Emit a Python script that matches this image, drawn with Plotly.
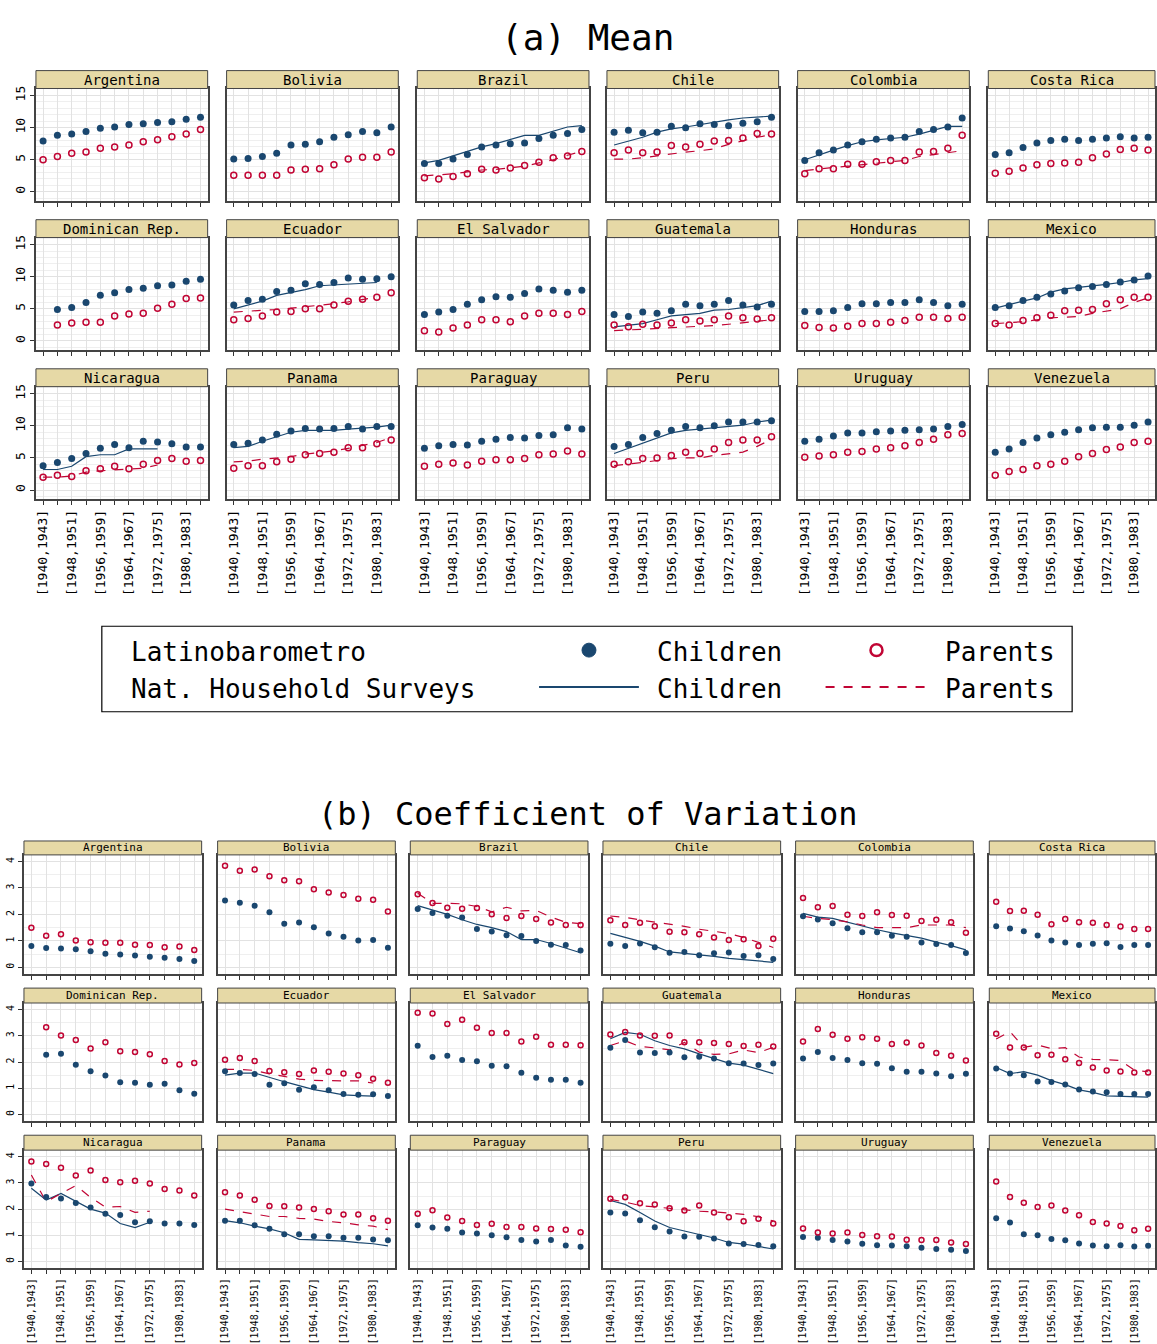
import plotly.graph_objects as go

countries = ["Argentina","Bolivia","Brazil","Chile","Colombia","Costa Rica",
             "Dominican Rep.","Ecuador","El Salvador","Guatemala","Honduras","Mexico",
             "Nicaragua","Panama","Paraguay","Peru","Uruguay","Venezuela"]
cohorts = ["[1940,1943]","[1944,1947]","[1948,1951]","[1952,1955]","[1956,1959]","[1960,1963]",
           "[1964,1967]","[1968,1971]","[1972,1975]","[1976,1979]","[1980,1983]","[1984,1987]"]
N = None
# ---- (a) Mean years of schooling ----
mean_lb_child = {
 "Argentina":[7.9,8.8,9.0,9.4,9.9,10.1,10.5,10.6,10.8,10.9,11.3,11.6],
 "Bolivia":[5.1,5.2,5.5,6.0,7.3,7.4,7.8,8.5,8.9,9.4,9.2,10.1],
 "Brazil":[4.4,4.4,5.1,5.8,7.0,7.3,7.5,7.6,8.3,8.8,9.1,9.7],
 "Chile":[9.3,9.6,9.2,9.3,10.2,10.0,10.6,10.5,10.3,10.7,10.9,11.6],
 "Colombia":[4.9,6.1,6.5,7.3,7.8,8.2,8.4,8.5,9.4,9.7,10.1,11.5],
 "Costa Rica":[5.8,6.1,6.9,7.6,8.0,8.2,8.0,8.2,8.4,8.6,8.4,8.5],
 "Dominican Rep.":[N,4.9,5.2,6.0,7.1,7.5,8.0,8.2,8.6,8.7,9.3,9.6],
 "Ecuador":[5.6,6.3,6.5,7.7,7.9,8.9,8.8,9.1,9.8,9.6,9.7,10.0],
 "El Salvador":[4.1,4.5,4.9,5.7,6.4,6.9,6.8,7.4,8.1,7.9,7.6,7.9],
 "Guatemala":[4.1,3.8,4.5,4.3,4.7,5.7,5.5,5.7,6.3,5.6,5.3,5.7],
 "Honduras":[4.6,4.6,4.7,5.2,5.8,5.8,6.0,6.0,6.4,6.0,5.5,5.7],
 "Mexico":[5.2,5.5,6.3,6.8,7.3,7.8,8.3,8.5,8.8,9.2,9.5,10.1],
 "Nicaragua":[3.8,4.3,4.9,5.7,6.5,7.1,6.6,7.6,7.5,7.2,6.7,6.7],
 "Panama":[7.1,7.3,7.8,8.7,9.2,9.6,9.5,9.6,9.9,9.5,9.9,9.9],
 "Paraguay":[6.5,6.9,7.1,7.0,7.6,7.9,8.2,8.1,8.5,8.6,9.7,9.5],
 "Peru":[6.8,7.1,8.2,8.8,9.3,9.9,9.7,10.0,10.6,10.6,10.6,10.8],
 "Uruguay":[7.6,7.9,8.4,8.9,8.9,9.1,9.2,9.3,9.4,9.5,9.9,10.2],
 "Venezuela":[5.9,6.4,7.4,8.1,8.6,9.0,9.4,9.7,9.8,9.8,10.1,10.6]}
mean_lb_parent = {
 "Argentina":[5.0,5.5,6.0,6.2,6.8,7.0,7.3,7.8,8.1,8.6,9.0,9.7],
 "Bolivia":[2.6,2.6,2.6,2.6,3.4,3.5,3.6,4.2,5.1,5.4,5.4,6.2],
 "Brazil":[2.2,2.0,2.4,2.8,3.5,3.4,3.7,4.1,4.6,5.3,5.6,6.3],
 "Chile":[6.1,6.5,6.1,6.2,7.2,7.0,7.4,7.9,8.0,8.4,9.1,9.0],
 "Colombia":[2.8,3.6,3.6,4.3,4.3,4.7,4.9,4.9,6.2,6.3,6.8,8.8],
 "Costa Rica":[2.9,3.2,3.7,4.2,4.4,4.5,4.6,5.3,5.9,6.6,6.8,6.5],
 "Dominican Rep.":[N,2.5,2.8,2.9,2.9,3.9,4.2,4.3,5.1,5.7,6.6,6.7],
 "Ecuador":[3.3,3.5,3.9,4.5,4.6,5.0,5.0,5.6,6.2,6.5,6.8,7.5],
 "El Salvador":[1.6,1.4,2.0,2.5,3.3,3.3,3.0,3.9,4.3,4.3,4.1,4.6],
 "Guatemala":[2.5,2.2,2.6,2.5,2.8,3.3,3.1,3.3,3.9,3.6,3.4,3.6],
 "Honduras":[2.4,2.1,2.0,2.3,2.7,2.7,2.9,3.2,3.7,3.7,3.5,3.7],
 "Mexico":[2.7,2.5,3.2,3.6,4.0,4.7,4.8,4.9,5.8,6.4,6.8,6.8],
 "Nicaragua":[2.0,2.3,2.1,3.0,3.3,3.7,3.3,4.0,4.6,4.9,4.5,4.6],
 "Panama":[3.4,3.8,3.8,4.4,4.8,5.5,5.7,5.9,6.6,6.6,7.2,7.8],
 "Paraguay":[3.7,4.0,4.2,3.9,4.5,4.7,4.7,4.9,5.5,5.6,6.1,5.6],
 "Peru":[4.0,4.4,4.9,5.0,5.4,5.9,5.7,6.4,7.4,7.8,7.8,8.3],
 "Uruguay":[5.1,5.3,5.5,5.9,6.0,6.4,6.6,6.9,7.4,7.9,8.6,8.8],
 "Venezuela":[2.3,2.9,3.2,3.8,4.0,4.5,5.2,5.7,6.3,6.7,7.4,7.6]}
mean_hs_child = {
 "Brazil":[4.5,4.9,5.6,6.3,7.0,7.5,8.1,8.8,8.8,9.4,10.1,10.3],
 "Chile":[7.3,7.9,8.5,9.3,9.8,10.1,10.5,10.9,11.2,11.5,11.7,11.8],
 "Colombia":[5.0,5.8,6.5,7.2,7.8,8.1,8.3,8.5,9.0,9.6,10.2,10.2],
 "Ecuador":[5.0,5.6,6.2,7.1,7.5,8.0,8.6,8.7,8.9,9.0,9.1,N],
 "Guatemala":[2.2,2.4,2.7,3.3,3.9,4.1,4.3,4.8,4.9,5.2,5.5,6.2],
 "Mexico":[5.1,5.7,6.2,6.7,7.6,8.1,8.3,8.5,8.8,9.1,9.5,9.7],
 "Nicaragua":[3.2,3.2,3.7,5.2,5.5,5.5,6.4,6.4,6.4,N,N,N],
 "Panama":[6.6,6.8,7.6,8.3,9.0,9.3,9.3,9.3,9.5,9.6,9.8,10.1],
 "Peru":[5.7,6.5,7.4,8.2,8.9,9.3,9.5,9.8,10.0,10.1,10.6,10.9]}
mean_hs_parent = {
 "Brazil":[2.5,2.6,2.8,3.1,3.4,3.5,3.7,4.0,4.5,5.0,5.7,6.3],
 "Chile":[5.1,5.1,5.3,5.6,6.0,6.2,6.4,6.7,7.4,8.0,8.5,8.9],
 "Colombia":[3.3,3.6,3.8,4.0,4.2,4.5,4.6,4.9,5.5,5.8,6.1,6.4],
 "Ecuador":[4.5,4.6,4.7,4.9,5.1,5.3,5.5,5.8,6.1,6.4,6.8,N],
 "Guatemala":[1.6,1.7,1.8,1.9,2.0,2.1,2.2,2.4,2.6,2.8,3.0,3.3],
 "Mexico":[2.7,2.8,3.0,3.3,3.6,3.7,3.8,4.3,4.6,5.0,6.0,6.7],
 "Nicaragua":[2.0,2.0,2.2,2.8,3.0,3.1,3.2,3.4,3.9,N,N,N],
 "Panama":[4.4,4.5,4.8,5.0,5.2,5.6,5.8,6.1,6.5,6.9,7.4,8.2],
 "Peru":[3.8,4.0,4.3,4.6,4.9,5.0,5.0,5.4,5.6,5.9,6.8,7.9]}
# ---- (b) Coefficient of variation ----
cv_lb_child = {
 "Argentina":[0.81,0.73,0.71,0.68,0.61,0.51,0.48,0.45,0.40,0.36,0.31,0.24],
 "Bolivia":[2.53,2.44,2.33,2.08,1.65,1.69,1.51,1.28,1.16,1.01,1.03,0.74],
 "Brazil":[2.2,2.05,1.95,1.88,1.45,1.35,1.21,1.18,0.99,0.85,0.84,0.64],
 "Chile":[0.89,0.81,0.9,0.76,0.55,0.58,0.46,0.53,0.56,0.43,0.46,0.31],
 "Colombia":[1.93,1.81,1.67,1.48,1.33,1.33,1.19,1.16,0.94,0.88,0.84,0.54],
 "Costa Rica":[1.55,1.47,1.36,1.2,1.01,0.94,0.84,0.89,0.91,0.77,0.84,0.84],
 "Dominican Rep.":[N,2.28,2.32,1.9,1.65,1.49,1.23,1.21,1.13,1.17,0.92,0.79],
 "Ecuador":[1.65,1.58,1.54,1.13,1.19,0.94,1.04,0.92,0.78,0.75,0.77,0.70],
 "El Salvador":[2.62,2.19,2.24,2.08,2.03,1.86,1.84,1.59,1.40,1.32,1.32,1.21],
 "Guatemala":[2.54,2.84,2.36,2.34,2.36,2.18,2.2,2.13,1.95,1.94,1.89,1.94],
 "Honduras":[2.13,2.38,2.15,2.08,1.95,1.93,1.76,1.63,1.63,1.56,1.46,1.55],
 "Mexico":[1.75,1.56,1.5,1.26,1.24,1.14,0.95,0.88,0.85,0.78,0.78,0.78],
 "Nicaragua":[2.98,2.46,2.41,2.23,2.06,1.82,1.78,1.5,1.54,1.45,1.45,1.4],
 "Panama":[1.56,1.56,1.39,1.25,1.04,1.04,0.97,0.97,0.91,0.91,0.84,0.81],
 "Paraguay":[1.39,1.3,1.25,1.11,1.07,1.0,0.93,0.82,0.77,0.82,0.61,0.57],
 "Peru":[1.87,1.83,1.58,1.31,1.15,0.96,0.95,0.88,0.69,0.67,0.63,0.59],
 "Uruguay":[0.94,0.91,0.82,0.77,0.68,0.62,0.61,0.59,0.53,0.48,0.45,0.4],
 "Venezuela":[1.65,1.49,1.04,1.0,0.86,0.81,0.69,0.61,0.59,0.62,0.58,0.6]}
cv_lb_parent = {
 "Argentina":[1.50,1.19,1.25,1.01,0.95,0.93,0.93,0.85,0.84,0.76,0.79,0.65],
 "Bolivia":[3.84,3.65,3.70,3.44,3.29,3.25,2.95,2.83,2.73,2.59,2.55,2.11],
 "Brazil":[2.76,2.43,2.25,2.21,2.24,2.01,1.86,1.94,1.83,1.69,1.6,1.6],
 "Chile":[1.78,1.6,1.68,1.55,1.34,1.33,1.25,1.13,1.03,1.06,0.81,1.08],
 "Colombia":[2.62,2.27,2.32,1.99,1.94,2.08,1.98,1.95,1.75,1.8,1.7,1.31],
 "Costa Rica":[2.48,2.13,2.14,1.99,1.63,1.83,1.7,1.68,1.6,1.54,1.45,1.45],
 "Dominican Rep.":[N,3.33,3.01,2.84,2.52,2.75,2.41,2.38,2.3,2.04,1.91,1.96],
 "Ecuador":[2.09,2.15,2.04,1.66,1.61,1.54,1.68,1.63,1.56,1.5,1.36,1.21],
 "El Salvador":[3.88,3.85,3.45,3.61,3.31,3.11,3.11,2.78,2.96,2.66,2.66,2.64],
 "Guatemala":[3.05,3.14,3.01,3.0,3.01,2.75,2.75,2.73,2.69,2.61,2.66,2.59],
 "Honduras":[2.78,3.26,3.04,2.89,2.94,2.89,2.69,2.74,2.63,2.34,2.24,2.06],
 "Mexico":[3.08,2.55,2.55,2.26,2.28,2.11,1.96,1.79,1.68,1.64,1.6,1.6],
 "Nicaragua":[3.82,3.72,3.58,3.28,3.47,3.11,3.03,3.08,2.98,2.77,2.71,2.52],
 "Panama":[2.64,2.52,2.36,2.12,2.11,2.06,2.01,1.92,1.8,1.8,1.65,1.56],
 "Paraguay":[1.82,1.96,1.68,1.55,1.4,1.44,1.32,1.32,1.26,1.24,1.21,1.12],
 "Peru":[2.4,2.45,2.22,2.18,2.03,1.95,2.14,1.87,1.69,1.54,1.63,1.45],
 "Uruguay":[1.26,1.11,1.07,1.11,1.01,0.97,0.96,0.83,0.82,0.82,0.73,0.67],
 "Venezuela":[3.05,2.46,2.24,2.08,2.14,1.95,1.77,1.51,1.45,1.36,1.2,1.25]}
cv_hs_child = {
 "Brazil":[2.33,2.17,2.0,1.8,1.62,1.5,1.35,1.05,1.05,0.9,0.72,0.55],
 "Chile":[1.28,1.13,0.98,0.8,0.58,0.53,0.48,0.41,0.34,0.29,0.24,0.19],
 "Colombia":[2.04,1.9,1.85,1.7,1.55,1.42,1.3,1.2,1.1,0.95,0.82,0.66],
 "Ecuador":[1.5,1.58,1.58,1.4,1.25,1.1,0.95,0.85,0.75,0.72,0.7,N],
 "Guatemala":[2.89,3.13,3.06,2.81,2.63,2.5,2.31,2.13,1.96,1.88,1.71,1.56],
 "Mexico":[1.79,1.56,1.63,1.5,1.29,1.14,0.94,0.84,0.71,0.69,0.66,0.66],
 "Nicaragua":[2.8,2.35,2.6,2.3,2.0,1.85,1.45,1.3,1.5,N,N,N],
 "Panama":[1.56,1.48,1.35,1.25,1.1,0.85,0.83,0.8,0.78,0.72,0.68,0.6],
 "Peru":[2.33,2.18,1.87,1.55,1.3,1.17,1.05,0.9,0.73,0.67,0.58,0.48]}
cv_hs_parent = {
 "Brazil":[2.8,2.42,2.42,2.4,2.3,2.1,2.27,2.13,2.15,1.9,1.7,1.65],
 "Chile":[1.94,1.89,1.79,1.71,1.63,1.55,1.44,1.36,1.28,1.13,0.94,0.75],
 "Colombia":[1.93,1.85,1.8,1.72,1.6,1.5,1.5,1.5,1.6,1.6,1.6,1.5],
 "Ecuador":[1.72,1.72,1.68,1.55,1.45,1.35,1.3,1.28,1.28,1.28,1.2,N],
 "Guatemala":[2.63,2.81,2.59,2.54,2.46,2.75,2.38,2.29,2.31,2.46,2.36,2.56],
 "Mexico":[2.88,3.16,2.56,2.65,2.51,2.55,2.19,2.1,2.09,2.06,1.69,1.63],
 "Nicaragua":[3.3,2.28,2.6,2.9,2.45,2.08,2.1,1.88,1.92,N,N,N],
 "Panama":[2.0,1.9,1.82,1.72,1.72,1.65,1.62,1.53,1.48,1.4,1.35,1.22],
 "Peru":[2.37,2.27,2.14,2.09,2.02,1.97,1.92,1.9,1.84,1.8,1.71,1.55]}

W, H = 1157, 1344
NAVY, RED, STRIP = "#1a476f", "#c10534", "#e6d9a6"
FONT = "DejaVu Sans Mono"
fig = go.Figure()
layout = {}
shapes, annos = [], []
xs = list(range(12))
def fx(p): return p / W
def fy(p): return 1 - p / H

panels = [
 dict(data=(mean_lb_child, mean_lb_parent, mean_hs_child, mean_hs_parent),
      xl=[35,226,417,607,798,989], w=172, rows=[(68,86,199),(218,236,349),(368,386,499)],
      yr=[-1.4,16.1], dt=5, minor=1, sf=14, tf=13, ms=7, ms2=6),
 dict(data=(cv_lb_child, cv_lb_parent, cv_hs_child, cv_hs_parent),
      xl=[23,217,410,603,796,990], w=178, rows=[(843,857,977),(991,1006,1125),(1139,1154,1273)],
      yr=[-0.26,4.25], dt=1, minor=0.5, sf=11, tf=10, ms=6, ms2=5),
]
k = 0
for P in panels:
    lbc, lbp, hsc, hsp = P["data"]
    for i, c in enumerate(countries):
        r, col = divmod(i, 6)
        k += 1
        xa = "x" if k == 1 else f"x{k}"
        ya = "y" if k == 1 else f"y{k}"
        x0 = P["xl"][col]; x1 = min(x0 + P["w"], W - 1)
        st, t0, t1 = P["rows"][r]
        layout["xaxis" if k == 1 else f"xaxis{k}"] = dict(
            domain=[fx(x0), fx(x1)], anchor=ya, range=[-0.5, 11.5],
            tickvals=xs, ticktext=[cohorts[j] if (j % 2 == 0 and r == 2) else "" for j in xs],
            tickangle=-90, ticks="outside", ticklen=4, tickcolor="#333",
            tickfont=dict(family=FONT, size=P["tf"], color="#000"),
            showgrid=True, gridcolor="#e2e2e2", gridwidth=1,
            showline=True, linecolor="#444", linewidth=1.5, mirror=True, zeroline=False)
        layout["yaxis" if k == 1 else f"yaxis{k}"] = dict(
            domain=[fy(t1), fy(t0)], anchor=xa, range=P["yr"], dtick=P["dt"], tick0=0,
            showticklabels=(col == 0), ticks="outside" if col == 0 else "", ticklen=4,
            tickcolor="#333", tickangle=-90,
            tickfont=dict(family=FONT, size=P["tf"], color="#000"),
            showgrid=True, gridcolor="#e2e2e2", gridwidth=1,
            minor=dict(dtick=P["minor"], showgrid=True, gridcolor="#efefef"),
            showline=True, linecolor="#444", linewidth=1.5, mirror=True, zeroline=False)
        shapes.append(dict(type="rect", xref="paper", yref="paper",
                           x0=fx(x0), x1=fx(x1), y0=fy(t0), y1=fy(st),
                           fillcolor=STRIP, line=dict(color="#444", width=1)))
        annos.append(dict(text=c, xref="paper", yref="paper", x=fx((x0 + x1) / 2),
                          y=fy((st + t0) / 2), showarrow=False, xanchor="center", yanchor="middle",
                          font=dict(family=FONT, size=P["sf"], color="#000")))
        if c in hsc:
            fig.add_trace(go.Scatter(x=xs, y=hsc[c], mode="lines", xaxis=xa, yaxis=ya,
                                     line=dict(color=NAVY, width=1.2), showlegend=False))
            fig.add_trace(go.Scatter(x=xs, y=hsp[c], mode="lines", xaxis=xa, yaxis=ya,
                                     line=dict(color=RED, width=1.2, dash="dash"), showlegend=False))
        fig.add_trace(go.Scatter(x=xs, y=lbc[c], mode="markers", xaxis=xa, yaxis=ya,
                                 marker=dict(color=NAVY, size=P["ms"]), showlegend=False))
        fig.add_trace(go.Scatter(x=xs, y=lbp[c], mode="markers", xaxis=xa, yaxis=ya,
                                 marker=dict(symbol="circle-open", color=RED, size=P["ms2"],
                                             line=dict(width=1.5)), showlegend=False))

# legend box
shapes.append(dict(type="rect", xref="paper", yref="paper", x0=fx(101), x1=fx(1073),
                   y0=fy(713), y1=fy(627), line=dict(color="#000", width=1.2), fillcolor="white"))
LF = dict(family=FONT, size=26, color="#000")
for txt, px, py in [("Latinobarometro",128,653),("Nat. Household Surveys",128,690),
                    ("Children",655,653),("Children",655,690),("Parents",944,653),("Parents",944,690)]:
    annos.append(dict(text=txt, xref="paper", yref="paper", x=fx(px), y=fy(py), showarrow=False,
                      xanchor="left", yanchor="middle", font=LF))
shapes.append(dict(type="line", xref="paper", yref="paper", x0=fx(539), x1=fx(639), y0=fy(688), y1=fy(688),
                   line=dict(color=NAVY, width=2)))
shapes.append(dict(type="line", xref="paper", yref="paper", x0=fx(826), x1=fx(926), y0=fy(688), y1=fy(688),
                   line=dict(color=RED, width=2, dash="dash")))
shapes.append(dict(type="circle", xref="paper", yref="paper", x0=fx(582), x1=fx(596), y0=fy(658), y1=fy(644),
                   fillcolor=NAVY, line=dict(color=NAVY, width=1)))
shapes.append(dict(type="circle", xref="paper", yref="paper", x0=fx(871), x1=fx(883), y0=fy(657), y1=fy(645),
                   fillcolor="white", line=dict(color=RED, width=2.5)))

annos.append(dict(text="(a) Mean", xref="paper", yref="paper", x=fx(588), y=fy(35), showarrow=False,
                  xanchor="center", yanchor="middle", font=dict(family=FONT, size=36, color="#000")))
annos.append(dict(text="(b) Coefficient of Variation", xref="paper", yref="paper", x=fx(588), y=fy(816),
                  showarrow=False, xanchor="center", yanchor="middle",
                  font=dict(family=FONT, size=32, color="#000")))

fig.update_layout(width=W, height=H, margin=dict(l=0, r=0, t=0, b=0), autosize=False,
                  paper_bgcolor="white", plot_bgcolor="white", showlegend=False,
                  shapes=shapes, annotations=annos, **layout)
fig.write_html("out.html", post_script="document.body.style.margin='0';",
               config={"displayModeBar": False})
